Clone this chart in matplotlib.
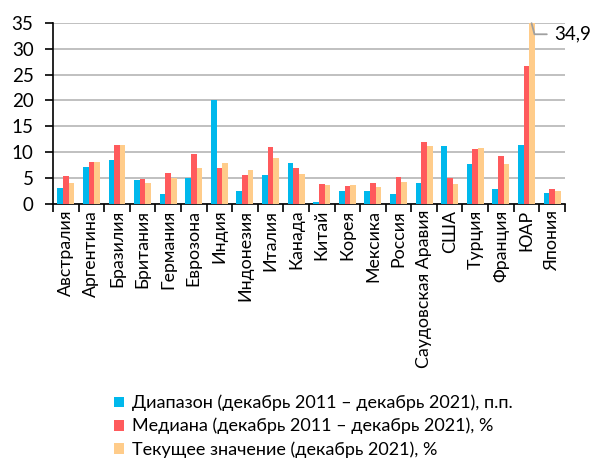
import matplotlib
matplotlib.use("Agg")

import matplotlib.pyplot as plt
import numpy as np

plt.rcParams["font.family"] = ["Lato", "DejaVu Sans"]

countries = ["Австралия", "Аргентина", "Бразилия", "Британия", "Германия",
             "Еврозона", "Индия", "Индонезия", "Италия", "Канада",
             "Китай", "Корея", "Мексика", "Россия", "Саудовская Аравия",
             "США", "Турция", "Франция", "ЮАР", "Япония"]

range_pp = [3.2, 7.2, 8.5, 4.6, 2.0, 5.1, 20.1, 2.5, 5.6, 7.9,
            0.5, 2.5, 2.5, 1.9, 4.0, 11.2, 7.7, 3.0, 11.5, 2.1]
median = [5.5, 8.1, 11.5, 4.8, 6.1, 9.6, 6.9, 5.7, 11.1, 7.0,
          3.9, 3.5, 4.1, 5.2, 12.0, 5.1, 10.6, 9.2, 26.7, 2.9]
current = [4.1, 8.1, 11.5, 4.0, 5.1, 7.0, 7.9, 6.5, 8.9, 5.9,
           3.7, 3.7, 3.4, 4.3, 11.2, 3.8, 10.8, 7.8, 34.9, 2.6]

labels = ["Диапазон (декабрь 2011 – декабрь 2021), п.п.",
          "Медиана (декабрь 2011 – декабрь 2021), %",
          "Текущее значение (декабрь 2021), %"]
colors = ["#00B8EC", "#FF5A5C", "#FFCC8A"]

fig = plt.figure(figsize=(5.98, 4.62), dpi=100)
ax = fig.add_axes([0.0886, 0.558, 0.856, 0.393])

x = np.arange(len(countries))
w = 0.22
for i, (vals, lab, col) in enumerate(zip([range_pp, median, current], labels, colors)):
    ax.bar(x + (i - 1) * w, vals, width=w, color=col, label=lab, zorder=3)

ax.set_xlim(-0.5, len(countries) - 0.5)
ax.set_ylim(0, 35)
ax.set_yticks(range(0, 36, 5))
ax.yaxis.grid(True, color="#b5b5b5", linewidth=1.2, zorder=0)
for s in ["top", "right"]:
    ax.spines[s].set_visible(False)
ax.spines["left"].set_linewidth(1.2)
ax.spines["bottom"].set_linewidth(1.2)

ax.set_xticks(x)
ax.set_xticklabels(countries, rotation=90, fontsize=12.8)
ax.tick_params(axis="x", length=0, pad=4)
ax.set_xticks(np.arange(-0.5, len(countries), 1), minor=True)
ax.tick_params(axis="x", which="minor", length=5.5, width=1.2)
ax.tick_params(axis="y", labelsize=13.5, length=6, width=1.2, pad=8)

# подпись максимального значения (ЮАР)
i_max = int(np.argmax(current))
ax.annotate(f"{current[i_max]:.1f}".replace(".", ","),
            xy=(x[i_max] + w * 0.9, current[i_max]), xycoords="data",
            xytext=(16, -8), textcoords="offset points",
            fontsize=13.5, va="center",
            arrowprops=dict(arrowstyle="-", color="#a0a0a0", lw=1.3,
                            shrinkA=3, shrinkB=0,
                            connectionstyle="angle,angleA=0,angleB=105,rad=0"),
            annotation_clip=False)

handles, labs = ax.get_legend_handles_labels()
fig.legend(handles, labs, loc="lower left", bbox_to_anchor=(0.178, -0.006),
           frameon=False, fontsize=13, handlelength=0.55, handleheight=0.55,
           handletextpad=0.45, labelspacing=0.36, borderaxespad=0)

fig.savefig("out.png", dpi=100)
